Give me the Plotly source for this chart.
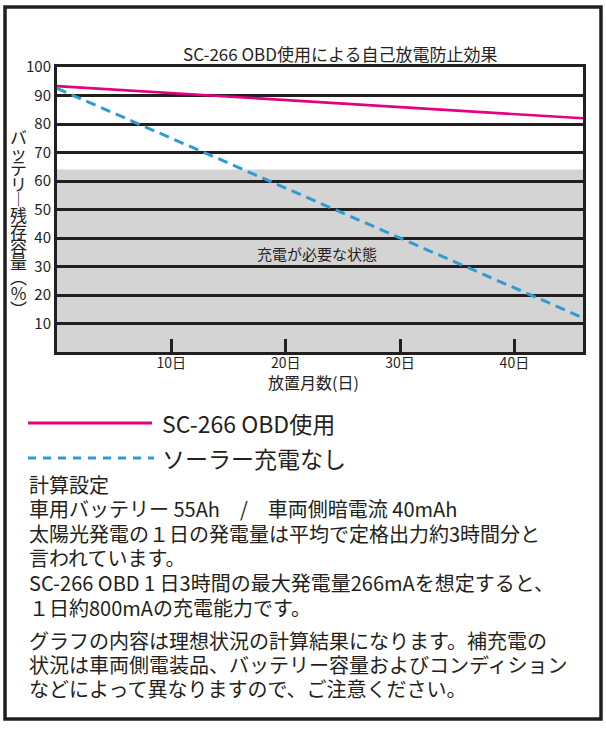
import plotly.graph_objects as go

# ---------------- data ----------------
DAYS = [0, 46]
SC266_USE = [93.3, 82.0]          # SC-266 OBD使用
NO_SOLAR = [92.5, 12.0]           # ソーラー充電なし
CHARGE_NEEDED_LEVEL = 64          # 充電が必要な状態 (below this)

SERIES_NAMES = ["SC-266 OBD使用", "ソーラー充電なし"]
X_TICKS = [10, 20, 30, 40]
X_TICK_LABELS = ["10日", "20日", "30日", "40日"]
Y_TICKS = [10, 20, 30, 40, 50, 60, 70, 80, 90, 100]
Y_TICK_LABELS = ["10", "20", "30", "40", "50", "60", "70", "80", "90", "100"]

TITLE = "SC-266 OBD使用による自己放電防止効果"
X_TITLE = "放置月数(日)"
# vertical writing of "バッテリー残存容量(%)"
Y_TITLE = ["バ", "ッ", "テ", "リ", "︱", "残", "存", "容", "量", "︵", "%", "︶"]
ZONE_LABEL = "充電が必要な状態"
NOTES = [
    "計算設定",
    "車用バッテリー 55Ah　/　車両側暗電流 40mAh",
    "太陽光発電の１日の発電量は平均で定格出力約3時間分と",
    "言われています。",
    "SC-266 OBD 1 日3時間の最大発電量266mAを想定すると、",
    "１日約800mAの充電能力です。",
    "グラフの内容は理想状況の計算結果になります。補充電の",
    "状況は車両側電装品、バッテリー容量およびコンディション",
    "などによって異なりますので、ご注意ください。",
]

# ---------------- layout helpers ----------------
W, H = 606, 729
PL, PR, PT, PB = 57, 583, 67, 352
FONT = "Noto Sans CJK JP"
INK = "#231f20"
PINK = "#e4007f"
BLUE = "#2f9bd3"


def px(x):
    return (x - PL) / (PR - PL)


def py(y):
    return (PB - y) / (PB - PT)


def label(text, x, y, size, xanchor="center", angle=0):
    return dict(text=text, x=px(x), y=py(y), xref="paper", yref="paper", showarrow=False,
                xanchor=xanchor, yanchor="middle", textangle=angle,
                font=dict(size=size, color=INK, family=FONT))


fig = go.Figure()
fig.add_trace(go.Scatter(x=DAYS, y=SC266_USE, mode="lines", name=SERIES_NAMES[0],
                         line=dict(color=PINK, width=2.6)))
fig.add_trace(go.Scatter(x=DAYS, y=NO_SOLAR, mode="lines", name=SERIES_NAMES[1],
                         line=dict(color=BLUE, width=3, dash="10px,6px")))

shapes = [
    # charge-needed zone
    dict(type="rect", xref="x domain", yref="y", x0=0, x1=1, y0=0, y1=CHARGE_NEEDED_LEVEL,
         fillcolor="#d4d4d4", line=dict(width=0), layer="below"),
    # outer frame
    dict(type="rect", xref="paper", yref="paper", x0=px(5), x1=px(601), y0=py(719), y1=py(7),
         line=dict(color=INK, width=3.5), fillcolor="rgba(0,0,0,0)", layer="above"),
    # legend samples
    dict(type="line", xref="paper", yref="paper", x0=px(28), x1=px(152), y0=py(423), y1=py(423),
         line=dict(color=PINK, width=3)),
    dict(type="line", xref="paper", yref="paper", x0=px(28), x1=px(154), y0=py(458), y1=py(458),
         line=dict(color=BLUE, width=3, dash="8px,7px")),
]

ann = [
    label(TITLE, 340, 53, 17),
    label(X_TITLE, 313, 382, 16),
    label(ZONE_LABEL, 317, 253, 15),
]

# vertical y-axis title: one text block, tight line pitch, 17px glyphs
ytitle = "<br>".join("<span style='font-size:17px'>%s</span>" % c for c in Y_TITLE)
yt = label(ytitle, 18, 222, 12)
yt["align"] = "center"
ann.append(yt)

# legend texts
for name, yc in zip(SERIES_NAMES, [423, 458]):
    ann.append(label(name, 160, yc, 23, xanchor="left"))

# notes
note_y = [484, 508, 533, 557, 582, 607, 640, 664, 689]
for line, yc in zip(NOTES, note_y):
    ann.append(label(line, 27, yc, 20, xanchor="left"))

fig.update_layout(
    width=W, height=H,
    margin=dict(l=PL, r=W - PR, t=PT, b=H - PB, autoexpand=False),
    paper_bgcolor="white", plot_bgcolor="white",
    showlegend=False,
    font=dict(family=FONT, color=INK),
    shapes=shapes,
    annotations=ann,
    xaxis=dict(range=[0, 46], tickvals=X_TICKS, ticktext=X_TICK_LABELS,
               ticks="inside", ticklen=13, tickwidth=2.5, tickcolor=INK,
               ticklabelstandoff=-4,
               showgrid=False, zeroline=False, showline=True, linewidth=3,
               linecolor=INK, mirror=True, tickfont=dict(size=14, color=INK, family=FONT),
               fixedrange=True),
    yaxis=dict(range=[0, 100], tickvals=Y_TICKS, ticktext=Y_TICK_LABELS, ticks="",
               showgrid=True, gridcolor=INK, gridwidth=2.5, zeroline=False,
               showline=True, linewidth=3, linecolor=INK, mirror=True,
               tickfont=dict(size=15, color=INK, family=FONT), fixedrange=True),
)

fig.write_html("out.html", config={"displayModeBar": False},
               post_script="document.body.style.margin='0';")
